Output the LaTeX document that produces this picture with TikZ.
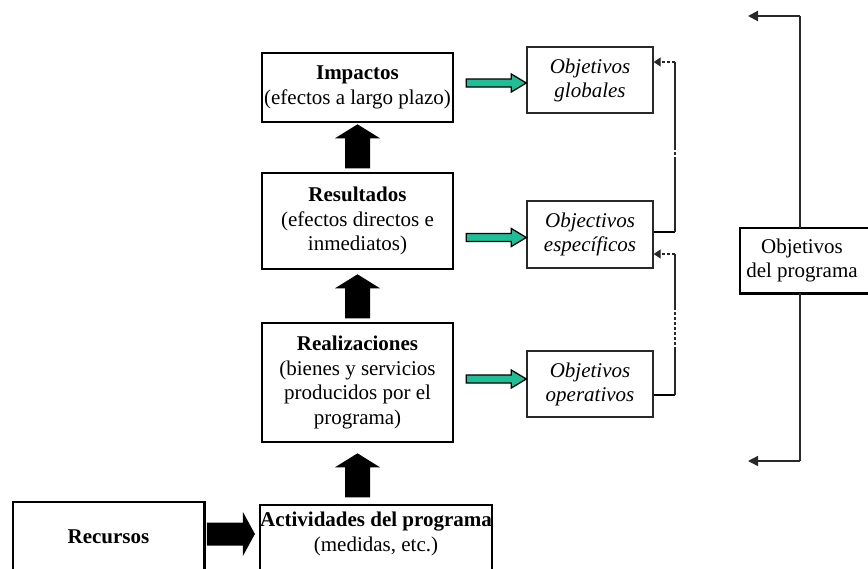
\documentclass[tikz,border=0pt]{standalone}
\usepackage{fontspec}
\setmainfont{Liberation Serif}
\usetikzlibrary{arrows.meta,calc}
\definecolor{arrteal}{RGB}{30,190,150}
\definecolor{linegray}{RGB}{40,40,40}
\newcommand\GreenArrow[1]{\filldraw[greenarr, shift={(#1)}] (-60,-4) -- (-15,-4) -- (-15,-9) -- (0,0) -- (-15,9) -- (-15,4) -- (-60,4) -- cycle;}
\newcommand\UpBlockArrow[1]{\fill[blockarr, shift={(#1)}] (0,0) -- (22.5,14) -- (12.5,14) -- (12.5,44) -- (-12.5,44) -- (-12.5,14) -- (-22.5,14) -- cycle;}
\begin{document}
\begin{tikzpicture}[x=1pt,y=-1pt,
  boxtext/.style={align=center, inner sep=0pt, font=\fontsize{21}{24.5}\selectfont},
  thickbox/.style={boxtext, draw=black, line width=2.6pt},
  thinbox/.style={align=center, inner sep=0pt, draw=linegray, line width=1.4pt, font=\fontsize{21}{24}\selectfont\itshape},
  frameline/.style={draw=black, line width=2.6pt},
  greenarr/.style={draw=black, line width=1.3pt, fill=arrteal, line join=miter},
  blockarr/.style={fill=black},
  link/.style={draw=linegray, line width=1.4pt},
  strong/.style={draw=black, line width=2.6pt},
  dashlink/.style={draw=linegray, line width=1.4pt, dash pattern=on 3pt off 2pt},
  tipsmall/.style={-{Triangle[length=7pt,width=9pt]}},
  tipbig/.style={-{Triangle[length=10pt,width=10pt]}}
]
\useasboundingbox (0,0) rectangle (868,568);
\clip (0,0) rectangle (868,568);

% left column
\node[thickbox, minimum width=191pt, minimum height=69pt] (imp) at (357.5,87.5)
  {\textbf{Impactos}\\(efectos a largo plazo)};
\node[thickbox, minimum width=191pt, minimum height=96pt] (res) at (357.5,221)
  {\textbf{Resultados}\\(efectos directos e\\inmediatos)};
\node[thickbox, minimum width=191pt, minimum height=119pt] (rea) at (357.5,382.5)
  {\textbf{Realizaciones}\\(bienes y servicios\\producidos por el\\programa)};
\node[boxtext, minimum width=228pt, minimum height=58pt] (act) at (376,534)
  {\textbf{Actividades del programa}\\(medidas, etc.)};
\draw[frameline] (act.north west) rectangle ([yshift=-30pt]act.south east);
\node[boxtext, minimum width=191pt, minimum height=70pt] (rec) at (108.5,537)
  {\textbf{Recursos}};
\draw[frameline] (rec.north west) rectangle ([yshift=-30pt]rec.south east);

% objective boxes
\node[thinbox, minimum width=126pt, minimum height=66pt] (glob) at (590,80)
  {Objetivos\\globales};
\node[thinbox, minimum width=126pt, minimum height=67pt] (esp) at (590,234.5)
  {Objectivos\\específicos};
\node[thinbox, minimum width=126pt, minimum height=66pt] (ope) at (590,384)
  {Objetivos\\operativos};

% programme box
\node[boxtext, minimum width=124pt, minimum height=65pt] (prog) at (802,260.5)
  {Objetivos\\del programa};
\draw[frameline] (prog.north west) rectangle ([xshift=30pt]prog.south east);

% block arrows up
\UpBlockArrow{[yshift=-1pt]imp.south}
\UpBlockArrow{[yshift=-4pt]res.south}
\UpBlockArrow{[yshift=-10pt]rea.south}
% block arrow right
\fill[blockarr, shift={(act.west)}] (-5,0) -- (-17,-22) -- (-17,-11.5) -- (-53,-11.5)
  -- (-53,11.5) -- (-17,11.5) -- (-17,22) -- cycle;

% green arrows
\GreenArrow{[yshift=-3pt]glob.west}
\GreenArrow{[yshift=-3pt]esp.west}
\GreenArrow{[yshift=5pt]ope.west}

% feedback connectors
\coordinate (k1) at (675,232);
\coordinate (k2) at (675,62);
\coordinate (k3) at (675,395);
\coordinate (k4) at (675,254);
\draw[strong] ([yshift=2.5pt]esp.east) -- (k1);
\draw[link] (k1) -- (675,160);
\draw[dashlink] (675,160) -- (675,147);
\draw[link] (675,147) -- (k2);
\draw[dashlink, tipsmall] (k2) -- ([yshift=18pt]glob.east);
\draw[strong] ([yshift=-11pt]ope.east) -- (k3);
\draw[link] (k3) -- (675,350);
\draw[dashlink] (675,350) -- (675,308);
\draw[link] (675,308) -- (k4);
\draw[dashlink, tipsmall] (k4) -- ([yshift=-19.5pt]esp.east);

% programme arrows
\coordinate (t1) at (748,16);
\coordinate (t2) at (748,461);
\coordinate (b1) at (800,16);
\coordinate (b2) at (800,461);
\draw[link] ([xshift=-2pt]prog.north) -- (b1);
\draw[link, line width=2.2pt, tipbig] (b1) -- (t1);
\draw[link] ([xshift=-2pt]prog.south) -- (b2);
\draw[link, tipbig] (b2) -- (t2);
\end{tikzpicture}
\end{document}
